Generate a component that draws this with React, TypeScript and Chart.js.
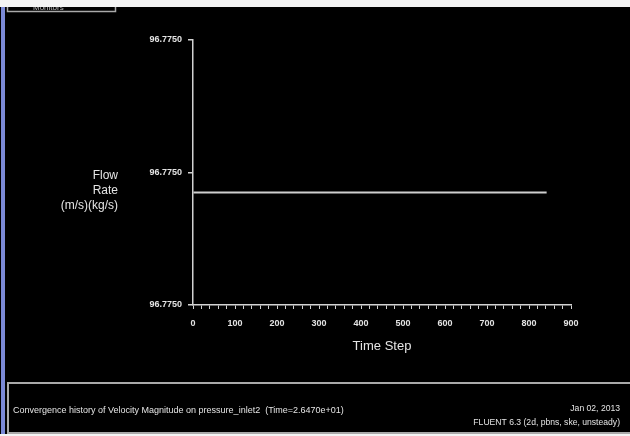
import { useEffect, useRef } from "react";
import { Chart, registerables } from "chart.js";

Chart.register(...registerables);

// Monitor data: flow rate through pressure_inlet2 per time step
const timeSteps = [1, 842];
const flowRate = [96.774994, 96.774994];

// Axis ticks
const yTicks = [96.77496, 96.775, 96.77504];
const xMajorTicks = [0, 100, 200, 300, 400, 500, 600, 700, 800, 900];
const xMinorStep = 20;

// Labels
const yTitleLines = ["Flow", "Rate", "(m/s)(kg/s)"];
const xTitle = "Time Step";
const footerLeft =
  "Convergence history of Velocity Magnitude on pressure_inlet2  (Time=2.6470e+01)";
const footerRight = ["Jan 02, 2013", "FLUENT 6.3 (2d, pbns, ske, unsteady)"];
const panelLabel = "Monitors";

const FONT = "'Liberation Sans', Arial, sans-serif";
const AXIS = "#d2d2d2";
const TEXT = "#e4e4e4";

const fluentFrame = {
  id: "fluentFrame",
  beforeDraw(chart: any) {
    const { ctx, width, height } = chart;
    ctx.save();
    ctx.fillStyle = "#000";
    ctx.fillRect(0, 0, width, height);
    ctx.restore();
  },
  afterDraw(chart: any) {
    const { ctx, width, height, chartArea, scales } = chart;
    ctx.save();

    // horizontal y-axis title, right aligned
    ctx.fillStyle = TEXT;
    ctx.font = `12px ${FONT}`;
    ctx.textAlign = "right";
    ctx.textBaseline = "middle";
    const yMid = scales.y.getPixelForValue(yTicks[1]);
    yTitleLines.forEach((line, i) => {
      ctx.fillText(line, 118, yMid + 3 + i * 15);
    });

    // x-axis title
    ctx.font = `13px ${FONT}`;
    ctx.textAlign = "center";
    ctx.fillText(xTitle, (chartArea.left + chartArea.right) / 2, 346);

    // bottom info panel
    ctx.fillStyle = "#000";
    ctx.fillRect(8, 383, width, 51);
    ctx.strokeStyle = "#a9a9a9";
    ctx.lineWidth = 2;
    ctx.strokeRect(8, 383, width + 10, 50);

    ctx.fillStyle = TEXT;
    ctx.font = `9px ${FONT}`;
    ctx.textAlign = "left";
    ctx.fillText(footerLeft, 13, 411);
    ctx.textAlign = "right";
    ctx.font = `8.6px ${FONT}`;
    ctx.fillText(footerRight[0], 620, 409);
    ctx.fillText(footerRight[1], 620, 423);

    // legend panel in the top-left corner
    ctx.strokeStyle = "#a9a9a9";
    ctx.lineWidth = 1.5;
    ctx.strokeRect(7.5, -6, 108, 17.5);
    ctx.fillStyle = "#bcbcbc";
    ctx.font = `8px ${FONT}`;
    ctx.textAlign = "left";
    ctx.textBaseline = "alphabetic";
    ctx.fillText(panelLabel, 33, 9.5);

    // window edges
    ctx.fillStyle = "#f4f4f4";
    ctx.fillRect(0, 0, width, 7);
    ctx.fillRect(0, 434, width, height - 434);
    ctx.fillStyle = "#7b89d6";
    ctx.fillRect(1, 7, 4, 427);

    ctx.restore();
  },
};

export default function App() {
  const canvasRef = useRef<HTMLCanvasElement | null>(null);

  useEffect(() => {
    document.body.style.margin = "0";
    document.body.style.background = "#000";
    const canvas = canvasRef.current;
    if (!canvas) return;

    const chart = new Chart(canvas, {
      type: "line",
      data: {
        datasets: [
          {
            data: timeSteps.map((x, i) => ({ x, y: flowRate[i] })),
            borderColor: "#cfcfcf",
            borderWidth: 2,
            pointRadius: 0,
            fill: false,
          },
        ],
      },
      options: {
        animation: false,
        responsive: false,
        devicePixelRatio: 1,
        layout: { padding: { top: 40, right: 59, left: 0, bottom: 0 } },
        plugins: {
          legend: { display: false },
          tooltip: { enabled: false },
        },
        scales: {
          x: {
            type: "linear",
            min: xMajorTicks[0],
            max: xMajorTicks[xMajorTicks.length - 1],
            afterFit: (scale: any) => {
              scale.height = 131;
            },
            ticks: {
              stepSize: xMinorStep,
              autoSkip: false,
              maxRotation: 0,
              padding: 9,
              color: TEXT,
              font: { family: FONT, size: 9, weight: "bold" },
              callback: (v: any) =>
                xMajorTicks.includes(Number(v)) ? String(v) : "",
            },
            grid: {
              drawOnChartArea: false,
              tickLength: 4,
              tickColor: AXIS,
              lineWidth: 1,
            },
            border: { display: true, color: AXIS, width: 1.5 },
          },
          y: {
            type: "linear",
            min: yTicks[0],
            max: yTicks[yTicks.length - 1],
            afterFit: (scale: any) => {
              scale.width = 193;
            },
            afterBuildTicks: (scale: any) => {
              scale.ticks = yTicks.map((value) => ({ value }));
            },
            ticks: {
              padding: 6,
              color: TEXT,
              font: { family: FONT, size: 9, weight: "bold" },
              callback: (v: any) => Number(v).toFixed(4),
            },
            grid: {
              drawOnChartArea: false,
              tickLength: 5,
              tickColor: AXIS,
              lineWidth: 1.5,
            },
            border: { display: true, color: AXIS, width: 1.5 },
          },
        },
      },
      plugins: [fluentFrame],
    });

    return () => chart.destroy();
  }, []);

  return (
    <div
      style={{
        position: "fixed",
        left: 0,
        top: 0,
        width: 630,
        height: 436,
        background: "#000",
      }}
    >
      <canvas ref={canvasRef} width={630} height={436} />
    </div>
  );
}
